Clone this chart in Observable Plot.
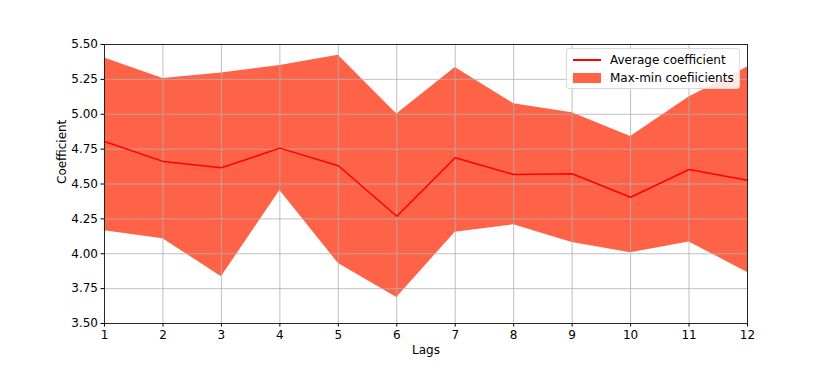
<!DOCTYPE html>
<html>
<head>
<meta charset="utf-8">
<script src="https://cdn.jsdelivr.net/npm/d3@7"></script>
<script src="https://cdn.jsdelivr.net/npm/@observablehq/plot@0.6"></script>
<style>
  body { margin: 0; background: #fff; }
  #wrap { position: relative; width: 830px; height: 369px; font-family: "DejaVu Sans", sans-serif; }
  #legend { position: absolute; left: 566px; top: 48px; width: 174px; height: 41px; box-sizing: border-box;
    border: 1px solid #d9d9d9; border-radius: 3px; background: rgba(255,255,255,0.85); font-size: 12px; color: #000; }
  .row { position: absolute; left: 6px; display: flex; align-items: center; height: 16px; }
  .sw { width: 28px; margin-right: 9px; }
</style>
</head>
<body>
<div id="wrap">
  <div id="chart"></div>
  <div id="legend">
    <div class="row" style="top:3px"><div class="sw" style="height:1.5px;background:#ff0000"></div><span>Average coefficient</span></div>
    <div class="row" style="top:21px"><div class="sw" style="height:10px;background:#ff6347"></div><span>Max-min coefiicients</span></div>
  </div>
</div>
<script>
const lags = [1, 2, 3, 4, 5, 6, 7, 8, 9, 10, 11, 12];
const maxCoef = [5.404, 5.256, 5.296, 5.349, 5.423, 5.001, 5.335, 5.076, 5.011, 4.841, 5.124, 5.339];
const minCoef = [4.164, 4.108, 3.835, 4.453, 3.931, 3.687, 4.154, 4.207, 4.080, 4.008, 4.085, 3.866];
const avgCoef = [4.805, 4.662, 4.616, 4.757, 4.631, 4.269, 4.688, 4.568, 4.573, 4.405, 4.604, 4.527];
const yTicks = [3.5, 3.75, 4.0, 4.25, 4.5, 4.75, 5.0, 5.25, 5.5];

const data = lags.map((l, i) => ({lag: l, max: maxCoef[i], min: minCoef[i], avg: avgCoef[i]}));

const chart = Plot.plot({
  width: 830,
  height: 369,
  marginLeft: 104,
  marginRight: 83,
  marginTop: 44,
  marginBottom: 46,
  style: {fontFamily: "DejaVu Sans, sans-serif", fontSize: "12px", color: "#000", background: "#fff"},
  x: {domain: [1, 12]},
  y: {domain: [3.5, 5.5]},
  marks: [
    Plot.areaY(data, {x: "lag", y1: "min", y2: "max", fill: "#ff6347"}),
    Plot.gridX(lags, {stroke: "#b0b0b0", strokeOpacity: 1, strokeWidth: 0.8}),
    Plot.gridY(yTicks, {stroke: "#b0b0b0", strokeOpacity: 1, strokeWidth: 0.8}),
    Plot.lineY(data, {x: "lag", y: "avg", stroke: "#ff0000", strokeWidth: 1.5}),
    Plot.frame({stroke: "#000", strokeWidth: 0.8}),
    Plot.axisX({ticks: lags, tickSize: 3.5, tickPadding: 3, fontSize: 12, label: null, tickFormat: d => String(d)}),
    Plot.axisY({ticks: yTicks, tickSize: 3.5, tickPadding: 3, fontSize: 12, label: null, tickFormat: d3.format(".2f")}),
    Plot.text(["Lags"], {frameAnchor: "bottom", dy: 30, fontSize: 12}),
    Plot.text(["Coefficient"], {frameAnchor: "left", dx: -42, rotate: -90, fontSize: 12})
  ]
});
document.getElementById("chart").appendChild(chart);
</script>
</body>
</html>
